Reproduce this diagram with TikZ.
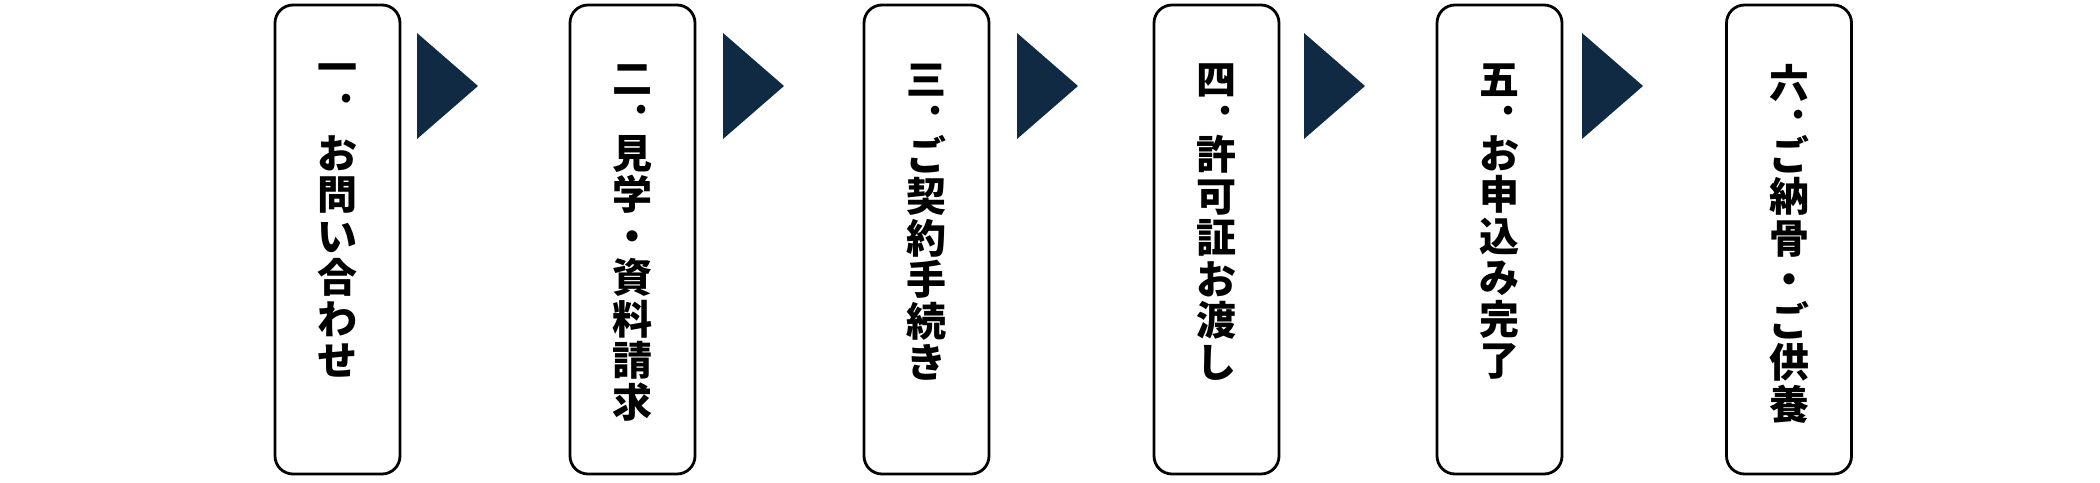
\documentclass[tikz,border=0pt]{standalone}
\usepackage{fontspec}
\setmainfont{Noto Sans CJK JP}
\definecolor{navy}{HTML}{112A44}
\tikzset{
  stepbox/.style={draw,line width=2.8pt,rounded corners=18pt,minimum width=125pt,minimum height=469pt,inner sep=0pt},
  numlbl/.style={inner sep=0pt,anchor=north,align=center,font=\fontsize{40}{40}\selectfont\bfseries},
  steplbl/.style={inner sep=0pt,anchor=north,align=center,font=\fontsize{40}{41.5}\selectfont\bfseries},
  nextarrow/.style={fill=navy}
}
\newcommand{\numdot}[1]{#1\\[-20pt]\hspace*{18pt}.}
\begin{document}
\begin{tikzpicture}[x=1pt,y=-1pt]
  \useasboundingbox (0,0) rectangle (2100,482);

  \node[stepbox] (s1) at (337.5,239.5) {};
  \node[stepbox] (s2) at (632.5,239.5) {};
  \node[stepbox] (s3) at (926.5,239.5) {};
  \node[stepbox] (s4) at (1216.5,239.5) {};
  \node[stepbox] (s5) at (1499.5,239.5) {};
  \node[stepbox] (s6) at (1789,239.5) {};

  \foreach \x in {417,723,1017,1304,1582}
    \fill[nextarrow] (\x,33) -- ++(61,53) -- ++(-61,53) -- cycle;

  \node[numlbl] (n1) at (337.5,64) {\numdot{一}};
  \node[steplbl] (t1) at (337.5,135) {お\\問\\い\\合\\わ\\せ};

  \node[numlbl] (n2) at (632.5,64) {\numdot{二}};
  \node[steplbl] (t2) at (632.5,135) {見\\学\\・\\資\\料\\請\\求};

  \node[numlbl] (n3) at (926.5,64) {\numdot{三}};
  \node[steplbl] (t3) at (926.5,135) {ご\\契\\約\\手\\続\\き};

  \node[numlbl] (n4) at (1216.5,64) {\numdot{四}};
  \node[steplbl] (t4) at (1216.5,135) {許\\可\\証\\お\\渡\\し};

  \node[numlbl] (n5) at (1499.5,64) {\numdot{五}};
  \node[steplbl] (t5) at (1499.5,135) {お\\申\\込\\み\\完\\了};

  \node[numlbl] (n6) at (1789,64) {\numdot{六}};
  \node[steplbl] (t6) at (1789,135) {ご\\納\\骨\\・\\ご\\供\\養};
\end{tikzpicture}
\end{document}
